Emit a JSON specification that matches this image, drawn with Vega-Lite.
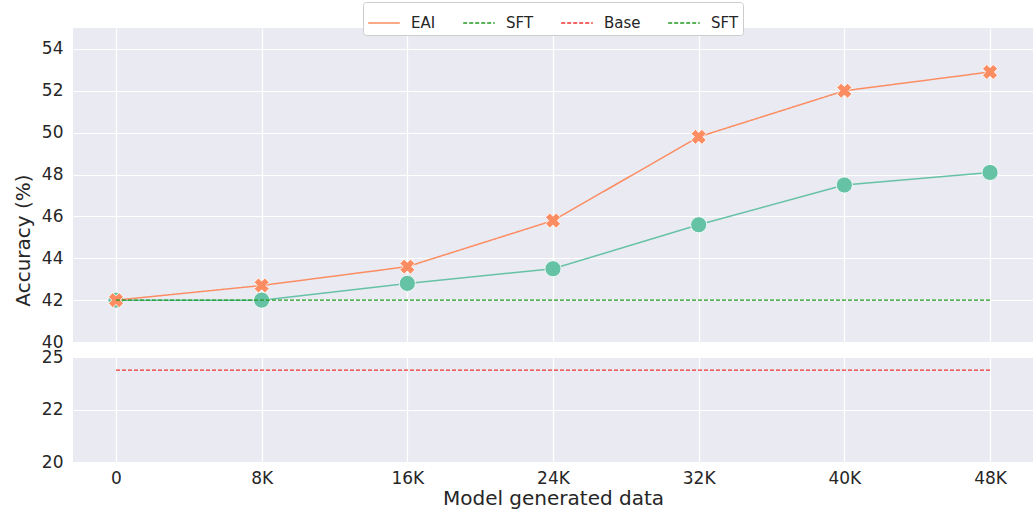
{
  "$schema": "https://vega.github.io/schema/vega-lite/v6.json",
  "background": "white",
  "padding": {"left": 13, "top": 1, "right": 0, "bottom": 5},
  "data": {"values": [
    {"data": "0", "series": "Green", "acc": 42.0},
    {"data": "8K", "series": "Green", "acc": 42.0},
    {"data": "16K", "series": "Green", "acc": 42.8},
    {"data": "24K", "series": "Green", "acc": 43.5},
    {"data": "32K", "series": "Green", "acc": 45.6},
    {"data": "40K", "series": "Green", "acc": 47.5},
    {"data": "48K", "series": "Green", "acc": 48.1},
    {"data": "0", "series": "EAI", "acc": 42.0},
    {"data": "8K", "series": "EAI", "acc": 42.7},
    {"data": "16K", "series": "EAI", "acc": 43.6},
    {"data": "24K", "series": "EAI", "acc": 45.8},
    {"data": "32K", "series": "EAI", "acc": 49.8},
    {"data": "40K", "series": "EAI", "acc": 52.0},
    {"data": "48K", "series": "EAI", "acc": 52.9},
    {"data": "0", "series": "SFT", "acc": 42.0},
    {"data": "48K", "series": "SFT", "acc": 42.0},
    {"data": "0", "series": "Base", "acc": 23.5},
    {"data": "48K", "series": "Base", "acc": 23.5}
  ]},
  "spacing": 15,
  "bounds": "flush",
  "resolve": {"scale": {"color": "shared", "strokeDash": "shared"}},
  "vconcat": [
    {
      "width": 960,
      "height": 314,
      "encoding": {
        "x": {"field": "data", "type": "ordinal", "sort": null,
          "scale": {"type": "point", "padding": 0.295, "domain": ["0", "8K", "16K", "24K", "32K", "40K", "48K"]},
          "axis": {"labels": false, "title": null, "grid": true}},
        "y": {"field": "acc", "type": "quantitative",
          "scale": {"domain": [40, 55], "nice": false, "zero": false},
          "axis": {"values": [40, 42, 44, 46, 48, 50, 52, 54], "title": "Accuracy (%)", "titleY": 212, "titlePadding": 8, "labelPadding": 10}}
      },
      "layer": [
        {"transform": [{"filter": "datum.series === 'Green'"}],
         "mark": {"type": "line", "color": "#66c2a5", "strokeWidth": 1.5}},
        {"transform": [{"filter": "datum.series === 'Green'"}],
         "mark": {"type": "point", "shape": "circle", "filled": true, "color": "#66c2a5", "opacity": 1, "size": 260, "stroke": "white", "strokeWidth": 0.8}},
        {"transform": [{"filter": "datum.series === 'EAI'"}],
         "mark": {"type": "line", "strokeWidth": 1.5},
         "encoding": {
           "color": {"field": "series", "type": "nominal",
             "scale": {"domain": ["EAI", "SFT", "Base", "SFT "], "range": ["#fc8d62", "#1f9a1f", "#ee3333", "#1f9a1f"]},
             "legend": {"title": null, "orient": "none", "legendX": 290, "legendY": -26, "direction": "horizontal", "columns": 4, "gridAlign": "none",
               "symbolType": "stroke", "symbolSize": 1000, "symbolStrokeWidth": 1.5, "labelFontSize": 15, "labelFont": "DejaVu Sans", "labelColor": "#262626",
               "columnPadding": 24, "padding": 4, "strokeColor": "#cccccc", "fillColor": "white", "cornerRadius": 3, "labelOffset": 10}},
           "strokeDash": {"field": "series", "type": "nominal",
             "scale": {"domain": ["EAI", "SFT", "Base", "SFT "], "range": [[1, 0], [4, 2], [4, 2], [4, 2]]},
             "legend": {"title": null}}
         }},
        {"transform": [{"filter": "datum.series === 'EAI'"}],
         "mark": {"type": "point", "shape": "cross", "angle": 45, "filled": true, "color": "#fc8d62", "opacity": 1, "size": 230, "stroke": "white", "strokeWidth": 0.8}},
        {"transform": [{"filter": "datum.series === 'SFT'"}],
         "mark": {"type": "line", "strokeWidth": 1.2},
         "encoding": {
           "color": {"field": "series", "type": "nominal"},
           "strokeDash": {"field": "series", "type": "nominal"}
         }}
      ]
    },
    {
      "width": 960,
      "height": 105,
      "transform": [{"filter": "datum.series === 'Base'"}],
      "mark": {"type": "line", "strokeWidth": 1.2},
      "encoding": {
        "x": {"field": "data", "type": "ordinal", "sort": null,
          "scale": {"type": "point", "padding": 0.295, "domain": ["0", "8K", "16K", "24K", "32K", "40K", "48K"]},
          "axis": {"title": "Model generated data", "grid": true, "labelAngle": 0, "labelPadding": 8, "titlePadding": 2}},
        "y": {"field": "acc", "type": "quantitative",
          "scale": {"domain": [20, 24], "nice": false, "zero": false},
          "axis": {"values": [20, 22, 24], "labelExpr": "datum.value == 24 ? '25' : datum.label", "title": null, "labelPadding": 10}},
        "color": {"field": "series", "type": "nominal"},
        "strokeDash": {"field": "series", "type": "nominal"}
      }
    }
  ],
  "config": {
    "view": {"fill": "#eaeaf2", "stroke": null},
    "axis": {"domain": false, "ticks": false, "gridColor": "white", "gridWidth": 1.2, "gridOpacity": 1,
      "labelFont": "DejaVu Sans", "labelFontSize": 17, "labelColor": "#262626", "labelPadding": 8,
      "titleFont": "DejaVu Sans", "titleFontSize": 20, "titleFontWeight": "normal", "titleColor": "#262626"}
  }
}
